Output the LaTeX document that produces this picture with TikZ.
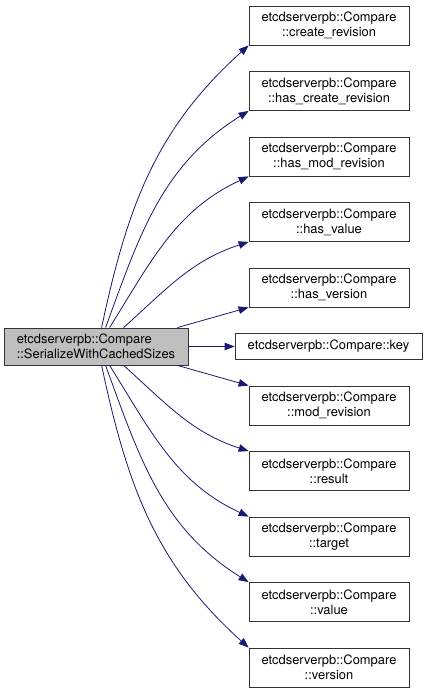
\documentclass[tikz,border=0pt]{standalone}
\usepackage{fontspec}
\setmainfont{TeX Gyre Heros}
\usepackage{tikz}
\usetikzlibrary{arrows.meta,positioning}
\definecolor{edgeblue}{RGB}{25,25,112}

\begin{document}
\begin{tikzpicture}[x=1pt, y=1pt,
    fbox/.style={draw=black!80, line width=0.8pt, minimum width=160pt, minimum height=39pt,
        inner xsep=10pt, align=center, font=\fontsize{12.9}{15}\selectfont},
    call/.style={draw=edgeblue, line width=0.8pt, -{Triangle[length=10pt,width=7.5pt]}}]
    \useasboundingbox (0,0) rectangle (428,692);
    % aufrufende Funktion
    \node[fbox, fill=black!25, minimum width=184pt, minimum height=37pt, align=left] (src) at (96,345.5)
        {etcdserverpb::Compare\\::SerializeWithCachedSizes};
    % aufgerufene Funktionen
    \foreach \n/\y/\t in {t1/666.5/create\_revision, t2/601/has\_create\_revision,
        t3/535.5/has\_mod\_revision, t4/470/has\_value, t5/404.5/has\_version,
        t7/286.5/mod\_revision, t8/221/result, t9/155.5/target, t10/90/value, t11/24.5/version} {
        \node[fbox] (\n) at (329,\y) {etcdserverpb::Compare\\::\t};
    }
    \node[fbox, minimum width=187pt, minimum height=26pt] (key) at (328.5,345.5) {etcdserverpb::Compare::key};
    % Aufrufe nach oben
    \foreach \n/\dx/\o/\i in {t1/98/78/222, t2/102/70/212, t3/106/58/205, t4/120/42/198} {
        \draw[call] ([xshift=\dx pt]src.north west) to[out=\o, in=\i] (\n.south west);
    }
    \draw[call] ([xshift=-11pt]src.north east) -- (t5.south west);
    \draw[call] (src) -- (key);
    \draw[call] ([xshift=-11pt]src.south east) -- (t7.north west);
    % Aufrufe nach unten
    \foreach \n/\dx/\o/\i in {t8/120/-42/162, t9/106/-58/155, t10/102/-70/148, t11/98/-78/138} {
        \draw[call] ([xshift=\dx pt]src.south west) to[out=\o, in=\i] (\n.north west);
    }
\end{tikzpicture}
\end{document}
